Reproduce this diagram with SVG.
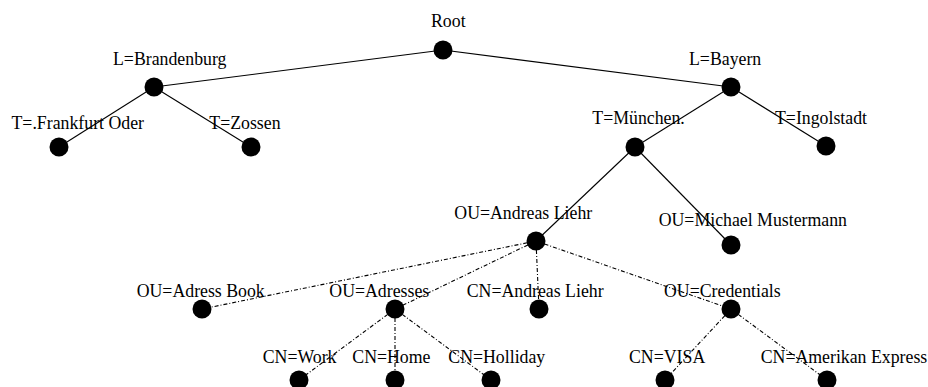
<svg xmlns="http://www.w3.org/2000/svg" width="928" height="387" viewBox="0 0 928 387">
<style>
text{font-family:"Liberation Serif","Times New Roman",serif;font-size:17.8px;fill:#000}
.e{stroke:#000;stroke-width:1.1;fill:none}
.d{stroke-dasharray:4,2,1,2}
circle{fill:#000}
</style>
<rect width="928" height="387" fill="#fff"/>
<g id="connectors">
<line class="e" x1="443" y1="50" x2="154" y2="87"/>
<line class="e" x1="443" y1="50" x2="731" y2="87"/>
<line class="e" x1="154" y1="87" x2="59" y2="147"/>
<line class="e" x1="154" y1="87" x2="251" y2="147"/>
<line class="e" x1="731" y1="87" x2="635" y2="147"/>
<line class="e" x1="731" y1="87" x2="826" y2="146"/>
<line class="e" x1="635" y1="147" x2="536" y2="241"/>
<line class="e" x1="635" y1="147" x2="731" y2="245"/>
<line class="e d" x1="536" y1="241" x2="202" y2="309"/>
<line class="e d" x1="536" y1="241" x2="395" y2="309"/>
<line class="e d" x1="536" y1="241" x2="539" y2="309"/>
<line class="e d" x1="536" y1="241" x2="731" y2="309"/>
<line class="e d" x1="395" y1="309" x2="299" y2="380"/>
<line class="e d" x1="395" y1="309" x2="395" y2="380"/>
<line class="e d" x1="395" y1="309" x2="491" y2="380"/>
<line class="e d" x1="731" y1="309" x2="665" y2="380"/>
<line class="e d" x1="731" y1="309" x2="827" y2="380"/>
</g>
<g id="root"><circle cx="443" cy="50" r="9.5"/><text x="431" y="26.5">Root</text></g>
<g id="brandenburg"><circle cx="154" cy="87" r="9.5"/><text x="113" y="64.5">L=Brandenburg</text></g>
<g id="frankfurt"><circle cx="59" cy="147" r="9.5"/><text x="11.5" y="129.3">T=.Frankfurt Oder</text></g>
<g id="zossen"><circle cx="251" cy="147" r="9.5"/><text x="209.3" y="129.3">T=Zossen</text></g>
<g id="bayern"><circle cx="731" cy="87" r="9.5"/><text x="689" y="64.5">L=Bayern</text></g>
<g id="muenchen"><circle cx="635" cy="147" r="9.5"/><text x="592.3" y="123.5">T=München.</text></g>
<g id="ingolstadt"><circle cx="826" cy="146" r="9.5"/><text x="775" y="124">T=Ingolstadt</text></g>
<g id="ou-andreas"><circle cx="536" cy="241" r="9.5"/><text x="454.3" y="219.3">OU=Andreas Liehr</text></g>
<g id="ou-michael"><circle cx="731" cy="245" r="9.5"/><text x="658.7" y="225.5">OU=Michael Mustermann</text></g>
<g id="ou-adressbook"><circle cx="202" cy="309" r="9.5"/><text x="136.7" y="297.3">OU=Adress Book</text></g>
<g id="ou-adresses"><circle cx="395" cy="309" r="9.5"/><text x="329.3" y="297.3">OU=Adresses</text></g>
<g id="cn-andreas"><circle cx="539" cy="309" r="9.5"/><text x="466.7" y="297.3">CN=Andreas Liehr</text></g>
<g id="ou-credentials"><circle cx="731" cy="309" r="9.5"/><text x="664" y="297.3">OU=Credentials</text></g>
<g id="cn-work"><circle cx="299" cy="380" r="9.5"/><text x="262.7" y="363.3">CN=Work</text></g>
<g id="cn-home"><circle cx="395" cy="380" r="9.5"/><text x="352.3" y="363.3">CN=Home</text></g>
<g id="cn-holliday"><circle cx="491" cy="380" r="9.5"/><text x="448.3" y="363.3">CN=Holliday</text></g>
<g id="cn-visa"><circle cx="665" cy="380" r="9.5"/><text x="629" y="363.3">CN=VISA</text></g>
<g id="cn-amex"><circle cx="827" cy="380" r="9.5"/><text x="760.7" y="363.3">CN=Amerikan Express</text></g>
</svg>
